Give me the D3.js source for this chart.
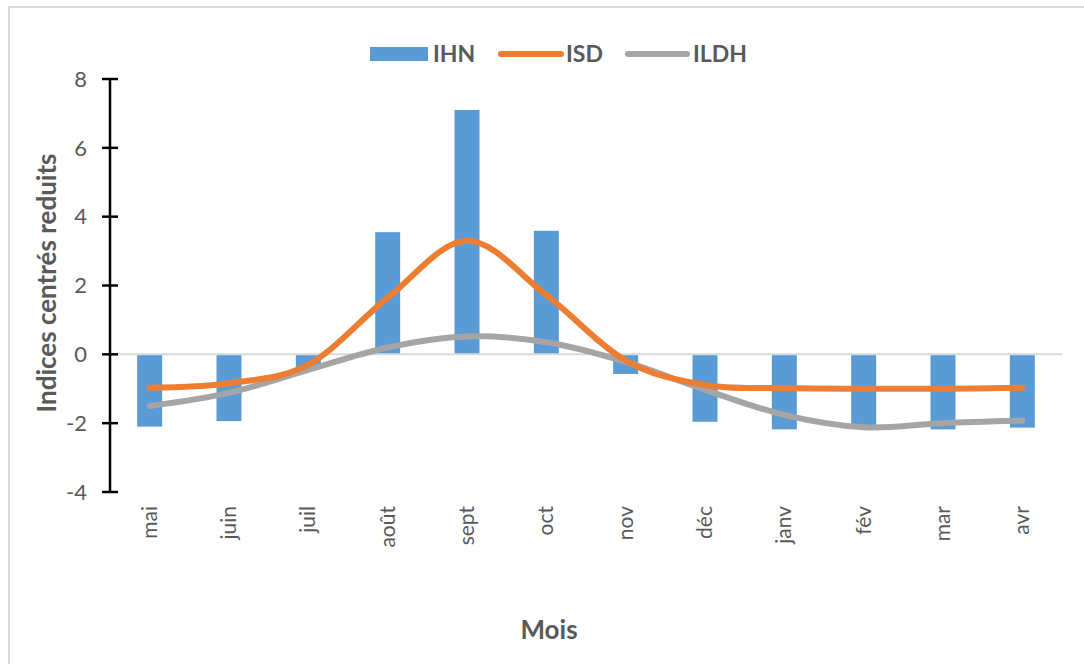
<!DOCTYPE html>
<html>
<head>
<meta charset="utf-8">
<script src="https://cdn.jsdelivr.net/npm/d3@7"></script>
<style>
  html, body { margin: 0; padding: 0; background: #fff; }
  svg { display: block; }
  text { font-family: Lato, "Open Sans", sans-serif; }
</style>
</head>
<body>
<svg id="chart" width="1084" height="664"></svg>
<script>
// Monthly centred-reduced indices
const months = ["mai", "juin", "juil", "août", "sept", "oct", "nov", "déc", "janv", "fév", "mar", "avr"];
const ihn  = [-2.10, -1.94, -0.40, 3.55, 7.10, 3.59, -0.57, -1.96, -2.18, -2.15, -2.18, -2.13];
const isd  = [-0.97, -0.84, -0.30, 1.64, 3.30, 1.72, -0.18, -0.89, -0.98, -1.00, -1.00, -0.97];
const ildh = [-1.50, -1.12, -0.45, 0.20, 0.52, 0.35, -0.22, -1.03, -1.76, -2.12, -2.00, -1.93];
const yTicks = [-4, -2, 0, 2, 4, 6, 8];

const svg = d3.select("#chart");
const plot = { left: 110, right: 1062, top: 79, bottom: 492 };

// Chart-area border
svg.append("rect")
  .attr("x", 9).attr("y", 7).attr("width", 1100).attr("height", 700)
  .attr("fill", "none").attr("stroke", "#d9d9d9").attr("stroke-width", 2);

const x = d3.scaleBand().domain(months).range([plot.left, plot.right]).padding(0);
const y = d3.scaleLinear().domain([-4, 8]).range([plot.bottom, plot.top]);
const barW = x.step() * 0.315;
const cx = m => x(m) + x.bandwidth() / 2;

// Bars (IHN)
svg.append("g").selectAll("rect")
  .data(months.map((m, i) => ({ m, v: ihn[i] })))
  .join("rect")
  .attr("x", d => cx(d.m) - barW / 2)
  .attr("y", d => y(Math.max(0, d.v)))
  .attr("width", barW)
  .attr("height", d => Math.abs(y(d.v) - y(0)))
  .attr("fill", "#5B9BD5");

// Horizontal category axis line at zero
svg.append("line")
  .attr("x1", plot.left).attr("x2", plot.right)
  .attr("y1", y(0)).attr("y2", y(0))
  .attr("stroke", "#d9d9d9").attr("stroke-width", 2);

// Smoothed lines
const line = d3.line()
  .x((d, i) => cx(months[i]))
  .y(d => y(d))
  .curve(d3.curveCatmullRom.alpha(0));

svg.append("path").datum(ildh)
  .attr("d", line).attr("fill", "none")
  .attr("stroke", "#A5A5A5").attr("stroke-width", 6).attr("stroke-linecap", "round");
svg.append("path").datum(isd)
  .attr("d", line).attr("fill", "none")
  .attr("stroke", "#ED7D31").attr("stroke-width", 6).attr("stroke-linecap", "round");

// Vertical axis
const yAxis = svg.append("g");
yAxis.append("line")
  .attr("x1", plot.left).attr("x2", plot.left)
  .attr("y1", y(8)).attr("y2", y(-4))
  .attr("stroke", "#000").attr("stroke-width", 2.5);
yAxis.selectAll("line.tick")
  .data(yTicks).join("line").attr("class", "tick")
  .attr("x1", plot.left - 8).attr("x2", plot.left + 8)
  .attr("y1", d => y(d)).attr("y2", d => y(d))
  .attr("stroke", "#000").attr("stroke-width", 2.5);
yAxis.selectAll("text")
  .data(yTicks).join("text")
  .attr("x", 87).attr("y", d => y(d))
  .attr("dy", "0.35em")
  .attr("text-anchor", "end")
  .attr("font-size", 22).attr("fill", "#595959")
  .text(d => d);

// Category labels, rotated
svg.append("g").selectAll("text")
  .data(months).join("text")
  .attr("transform", d => `translate(${cx(d) + 7},506) rotate(-90)`)
  .attr("text-anchor", "end")
  .attr("font-size", 21).attr("fill", "#595959")
  .text(d => d);

// Axis titles
svg.append("text")
  .attr("transform", "translate(56,283) rotate(-90)")
  .attr("text-anchor", "middle")
  .attr("font-size", 26).attr("font-weight", "bold").attr("fill", "#595959")
  .text("Indices centrés reduits");
svg.append("text")
  .attr("x", 549).attr("y", 639)
  .attr("text-anchor", "middle")
  .attr("font-size", 26).attr("font-weight", "bold").attr("fill", "#595959")
  .text("Mois");

// Legend
const legend = svg.append("g").attr("font-size", 23).attr("font-weight", "bold").attr("fill", "#595959");
legend.append("rect").attr("x", 370).attr("y", 47).attr("width", 58).attr("height", 14).attr("fill", "#5B9BD5");
legend.append("text").attr("x", 433).attr("y", 54).attr("dy", "0.35em").text("IHN");
legend.append("line").attr("x1", 501).attr("x2", 561).attr("y1", 54).attr("y2", 54)
  .attr("stroke", "#ED7D31").attr("stroke-width", 6).attr("stroke-linecap", "round");
legend.append("text").attr("x", 566).attr("y", 54).attr("dy", "0.35em").text("ISD");
legend.append("line").attr("x1", 628).attr("x2", 687).attr("y1", 54).attr("y2", 54)
  .attr("stroke", "#A5A5A5").attr("stroke-width", 6).attr("stroke-linecap", "round");
legend.append("text").attr("x", 693).attr("y", 54).attr("dy", "0.35em").text("ILDH");
</script>
</body>
</html>
